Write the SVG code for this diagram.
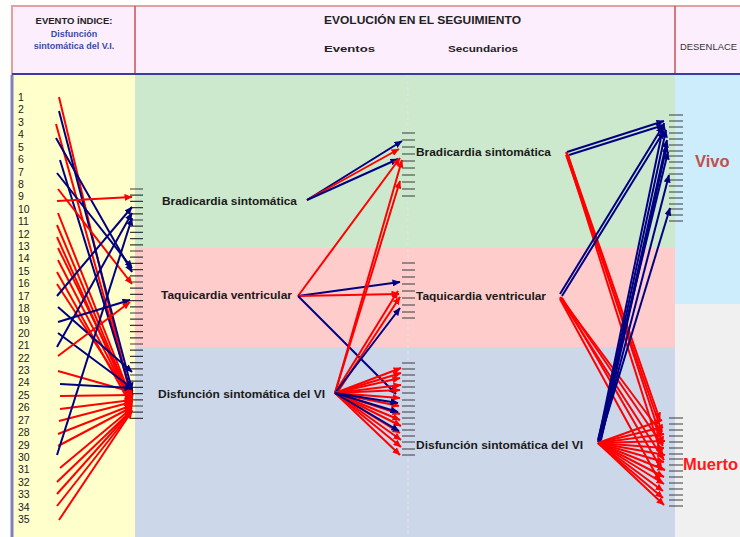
<svg xmlns="http://www.w3.org/2000/svg" width="740" height="537" viewBox="0 0 740 537">
<style>
.lbl{font-family:"Liberation Sans",Arial,sans-serif;font-weight:bold;font-size:11.5px;fill:#1a1a1a}
.num{font-family:"Liberation Sans",Arial,sans-serif;font-size:10.5px;fill:#1a1a1a}
.hd{font-family:"Liberation Sans",Arial,sans-serif;font-weight:bold;fill:#222}
.tk{stroke:#3a3a3a;stroke-width:1.2;fill:none}
.r{stroke:#ff0000;stroke-width:2;fill:none;marker-end:url(#ar)}
.b{stroke:#000080;stroke-width:2;fill:none;marker-end:url(#ab)}
</style>
<defs>
<marker id="ar" viewBox="0 0 8 7" refX="7.5" refY="3.5" markerWidth="8" markerHeight="7" markerUnits="userSpaceOnUse" orient="auto"><path d="M0,0 L8,3.5 L0,7 z" fill="#ff0000"/></marker>
<marker id="ab" viewBox="0 0 8 7" refX="7.5" refY="3.5" markerWidth="8" markerHeight="7" markerUnits="userSpaceOnUse" orient="auto"><path d="M0,0 L8,3.5 L0,7 z" fill="#000080"/></marker>
</defs>
<rect width="740" height="537" fill="#ffffff"/>
<g id="bands">
<rect x="12" y="75" width="123" height="462" fill="#ffffcc"/>
<rect x="135" y="75" width="540" height="173" fill="#cde9cd"/>
<rect x="135" y="248" width="540" height="99" fill="#ffcccc"/>
<rect x="135" y="347" width="540" height="190" fill="#ccd7ea"/>
<rect x="675" y="75" width="65" height="229" fill="#cdedfc"/>
<rect x="675" y="304" width="65" height="233" fill="#f0f0f0"/>
<line x1="408" y1="75" x2="408" y2="537" stroke="#e4e4e4" stroke-width="1" stroke-dasharray="3,3"/>
<line x1="12" y1="75" x2="12" y2="537" stroke="#8080c0" stroke-width="3"/>
</g>
<g id="header">
<rect x="12" y="6" width="740" height="68" fill="#fdeefe" stroke="#e4a0a0" stroke-width="2"/>
<line x1="135" y1="6" x2="135" y2="74" stroke="#c85050" stroke-width="1.5"/>
<line x1="675" y1="6" x2="675" y2="74" stroke="#c85050" stroke-width="1.5"/>
<line x1="12" y1="74" x2="740" y2="74" stroke="#3c3ca0" stroke-width="2"/>
<text class="hd" x="74" y="23.5" font-size="9.5" text-anchor="middle">EVENTO ÍNDICE:</text>
<text class="hd" x="74" y="36.5" font-size="9" text-anchor="middle" style="fill:#3a4aa8">Disfunción</text>
<text class="hd" x="74" y="49" font-size="9" text-anchor="middle" style="fill:#3a4aa8">sintomática del V.I.</text>
<text class="hd" x="324" y="23.5" font-size="10" textLength="197" lengthAdjust="spacingAndGlyphs">EVOLUCIÓN EN EL SEGUIMIENTO</text>
<text class="hd" x="324" y="52" font-size="9.5" textLength="51" lengthAdjust="spacingAndGlyphs">Eventos</text>
<text class="hd" x="448" y="52" font-size="9.5" textLength="70" lengthAdjust="spacingAndGlyphs">Secundarios</text>
<text x="680" y="50" font-family="Liberation Sans, Arial, sans-serif" font-size="9.5" fill="#333" textLength="57" lengthAdjust="spacingAndGlyphs">DESENLACE</text>
</g>
<g id="patients" class="num">
<text x="18" y="101">1</text><text x="18" y="113.4">2</text><text x="18" y="125.8">3</text><text x="18" y="138.2">4</text><text x="18" y="150.6">5</text>
<text x="18" y="163">6</text><text x="18" y="175.5">7</text><text x="18" y="187.9">8</text><text x="18" y="200.3">9</text><text x="18" y="212.7">10</text>
<text x="18" y="225.1">11</text><text x="18" y="237.5">12</text><text x="18" y="249.9">13</text><text x="18" y="262.3">14</text><text x="18" y="274.7">15</text>
<text x="18" y="287.2">16</text><text x="18" y="299.6">17</text><text x="18" y="312">18</text><text x="18" y="324.4">19</text><text x="18" y="336.8">20</text>
<text x="18" y="349.2">21</text><text x="18" y="361.6">22</text><text x="18" y="374">23</text><text x="18" y="386.4">24</text><text x="18" y="398.8">25</text>
<text x="18" y="411.2">26</text><text x="18" y="423.7">27</text><text x="18" y="436.1">28</text><text x="18" y="448.5">29</text><text x="18" y="460.9">30</text>
<text x="18" y="473.3">31</text><text x="18" y="485.7">32</text><text x="18" y="498.1">33</text><text x="18" y="510.5">34</text><text x="18" y="523">35</text>
</g>
<g id="stack-index">
<path class="tk" d="M130,189h13M130,195.2h13M130,201.4h13M130,207.6h13M130,213.8h13M130,220h13M130,226.2h13M130,232.4h13M130,238.6h13M130,244.8h13M130,251h13M130,257.2h13M130,263.4h13M130,269.6h13M130,275.8h13M130,282h13M130,288.2h13M130,294.4h13M130,300.6h13M130,306.8h13M130,313h13M130,319.2h13M130,325.4h13M130,331.6h13M130,337.8h13M130,344h13M130,350.2h13M130,356.4h13M130,362.6h13M130,368.8h13M130,375h13M130,381.2h13M130,387.4h13M130,393.6h13M130,399.8h13M130,406h13M130,412.2h13M130,418.4h13"/>
</g>
<g id="node-brad1"><text class="lbl" x="162" y="205" textLength="135" lengthAdjust="spacingAndGlyphs">Bradicardia sintomática</text></g>
<g id="node-taq1"><text class="lbl" x="161" y="299" textLength="131" lengthAdjust="spacingAndGlyphs">Taquicardia ventricular</text></g>
<g id="node-disf1"><text class="lbl" x="158" y="398" textLength="167" lengthAdjust="spacingAndGlyphs">Disfunción sintomática del VI</text></g>
<g id="node-brad2">
<path class="tk" d="M402,133h13M402,140h13M402,147h13M402,154h13M402,161h13M402,168h13M402,175h13M402,182h13M402,189h13M402,196h13"/>
<text class="lbl" x="416" y="156" textLength="135" lengthAdjust="spacingAndGlyphs">Bradicardia sintomática</text>
</g>
<g id="node-taq2">
<path class="tk" d="M402,263h13M402,270h13M402,277h13M402,284h13M402,291h13M402,298h13M402,305h13M402,312h13M402,318h13"/>
<text class="lbl" x="416" y="300" textLength="130" lengthAdjust="spacingAndGlyphs">Taquicardia ventricular</text>
</g>
<g id="node-disf2">
<path class="tk" d="M402,363h13M402,369h13M402,375h13M402,381h13M402,387h13M402,393h13M402,400h13M402,406h13M402,412h13M402,418h13M402,424h13M402,430h13M402,436h13M402,442h13M402,449h13M402,455h13"/>
<text class="lbl" x="416" y="449" textLength="167" lengthAdjust="spacingAndGlyphs">Disfunción sintomática del VI</text>
</g>
<g id="node-vivo">
<path class="tk" d="M669,115h14M669,121h14M669,127h14M669,133h14M669,139h14M669,145h14M669,151h14M669,156h14M669,162h14M669,168h14M669,174h14M669,180h14M669,186h14M669,192h14M669,198h14M669,204h14M669,209h14M669,215h14M669,221h14"/>
<text x="695" y="167" font-family="Liberation Sans, Arial, sans-serif" font-weight="bold" font-size="16.5" fill="#c0504d">Vivo</text>
</g>
<g id="node-muerto">
<path class="tk" d="M669,418h14M669,424h14M669,430h14M669,436h14M669,442h14M669,448h14M669,454h14M669,459h14M669,465h14M669,471h14M669,477h14M669,483h14M669,489h14M669,495h14M669,500h14M669,506h14"/>
<text x="683" y="470" font-family="Liberation Sans, Arial, sans-serif" font-weight="bold" font-size="16.5" fill="#ff1a1a">Muerto</text>
</g>
<g id="connectors">
<line class="r" x1="59" y1="97" x2="132" y2="402"/>
<line class="b" x1="59" y1="111" x2="132" y2="390"/>
<line class="r" x1="56" y1="124" x2="132" y2="398"/>
<line class="b" x1="56" y1="138" x2="132" y2="272"/>
<line class="b" x1="60" y1="160" x2="132" y2="395"/>
<line class="b" x1="57" y1="173" x2="132" y2="268"/>
<line class="r" x1="58" y1="189" x2="132" y2="284"/>
<line class="r" x1="57" y1="201" x2="132" y2="197"/>
<line class="r" x1="58" y1="213" x2="132" y2="400"/>
<line class="r" x1="57" y1="225" x2="132" y2="403"/>
<line class="r" x1="57" y1="237" x2="132" y2="405"/>
<line class="r" x1="58" y1="248" x2="132" y2="398"/>
<line class="r" x1="58" y1="260" x2="132" y2="404"/>
<line class="r" x1="57" y1="272" x2="132" y2="407"/>
<line class="r" x1="57" y1="284" x2="132" y2="400"/>
<line class="b" x1="57" y1="296" x2="132" y2="207"/>
<line class="b" x1="58" y1="307" x2="132" y2="372"/>
<line class="b" x1="58" y1="322" x2="130" y2="300"/>
<line class="b" x1="58" y1="333" x2="132" y2="388"/>
<line class="b" x1="57" y1="347" x2="132" y2="213"/>
<line class="r" x1="58" y1="356" x2="130" y2="302"/>
<line class="r" x1="58" y1="371" x2="132" y2="392"/>
<line class="b" x1="60" y1="384" x2="132" y2="388"/>
<line class="r" x1="60" y1="396" x2="132" y2="395"/>
<line class="r" x1="60" y1="409" x2="132" y2="400"/>
<line class="r" x1="59" y1="421" x2="132" y2="402"/>
<line class="r" x1="58" y1="434" x2="132" y2="405"/>
<line class="r" x1="58" y1="446" x2="132" y2="407"/>
<line class="b" x1="57" y1="455" x2="132" y2="218"/>
<line class="r" x1="60" y1="468" x2="132" y2="408"/>
<line class="r" x1="57" y1="482" x2="132" y2="410"/>
<line class="r" x1="57" y1="494" x2="132" y2="410"/>
<line class="r" x1="57" y1="506" x2="132" y2="411"/>
<line class="r" x1="59" y1="520" x2="132" y2="411"/>

<line class="b" x1="307" y1="200" x2="402" y2="141"/>
<line class="r" x1="307" y1="200" x2="399" y2="149"/>
<line class="b" x1="307" y1="200" x2="398" y2="159"/>
<line class="r" x1="298" y1="296" x2="400" y2="158"/>
<line class="b" x1="298" y1="296" x2="400" y2="282"/>
<line class="r" x1="298" y1="296" x2="399" y2="294"/>
<line class="b" x1="298" y1="296" x2="396" y2="394"/>
<line class="r" x1="335" y1="393" x2="402" y2="160"/>
<line class="r" x1="335" y1="393" x2="400" y2="181"/>
<line class="r" x1="335" y1="393" x2="398" y2="291"/>
<line class="r" x1="337" y1="393" x2="400" y2="297"/>
<line class="b" x1="335" y1="393" x2="400" y2="308"/>
<line class="r" x1="335" y1="393" x2="401" y2="368"/>
<line class="r" x1="335" y1="393" x2="401" y2="373"/>
<line class="r" x1="335" y1="393" x2="400" y2="378"/>
<line class="r" x1="335" y1="393" x2="401" y2="385"/>
<line class="r" x1="335" y1="393" x2="400" y2="390"/>
<line class="r" x1="335" y1="393" x2="400" y2="398"/>
<line class="r" x1="335" y1="393" x2="399" y2="406"/>
<line class="r" x1="335" y1="393" x2="400" y2="414"/>
<line class="r" x1="335" y1="393" x2="400" y2="420"/>
<line class="r" x1="335" y1="393" x2="401" y2="426"/>
<line class="r" x1="335" y1="393" x2="400" y2="433"/>
<line class="r" x1="335" y1="393" x2="401" y2="440"/>
<line class="r" x1="335" y1="393" x2="401" y2="447"/>
<line class="r" x1="335" y1="393" x2="400" y2="455"/>
<line class="b" x1="335" y1="393" x2="398" y2="403"/>
<line class="b" x1="335" y1="393" x2="398" y2="412"/>
<line class="b" x1="335" y1="393" x2="399" y2="431"/>

<line class="b" x1="567" y1="152" x2="664" y2="121"/>
<line class="b" x1="569" y1="155" x2="664" y2="125"/>
<line class="r" x1="567" y1="153" x2="660" y2="420"/>
<line class="r" x1="566" y1="155" x2="662" y2="432"/>
<line class="r" x1="568" y1="155" x2="663" y2="444"/>
<line class="r" x1="566" y1="152" x2="662" y2="456"/>
<line class="b" x1="560" y1="294" x2="663" y2="126"/>
<line class="b" x1="562" y1="296" x2="664" y2="131"/>
<line class="r" x1="560" y1="297" x2="662" y2="434"/>
<line class="r" x1="561" y1="297" x2="663" y2="446"/>
<line class="r" x1="560" y1="298" x2="664" y2="460"/>
<line class="r" x1="562" y1="298" x2="662" y2="470"/>
<line class="r" x1="560" y1="299" x2="660" y2="482"/>
<line class="b" x1="598" y1="442" x2="664" y2="123"/>
<line class="b" x1="599" y1="441" x2="666" y2="130"/>
<line class="b" x1="600" y1="441" x2="667" y2="140"/>
<line class="b" x1="601" y1="440" x2="667" y2="145"/>
<line class="b" x1="598" y1="440" x2="668" y2="152"/>
<line class="b" x1="600" y1="442" x2="669" y2="175"/>
<line class="b" x1="599" y1="442" x2="670" y2="208"/>
<line class="r" x1="598" y1="443" x2="662" y2="420"/>
<line class="r" x1="598" y1="443" x2="663" y2="427"/>
<line class="r" x1="598" y1="443" x2="664" y2="434"/>
<line class="r" x1="598" y1="443" x2="665" y2="441"/>
<line class="r" x1="598" y1="443" x2="664" y2="448"/>
<line class="r" x1="598" y1="443" x2="665" y2="455"/>
<line class="r" x1="598" y1="443" x2="664" y2="462"/>
<line class="r" x1="598" y1="443" x2="665" y2="470"/>
<line class="r" x1="598" y1="443" x2="664" y2="477"/>
<line class="r" x1="598" y1="443" x2="664" y2="484"/>
<line class="r" x1="598" y1="443" x2="663" y2="491"/>
<line class="r" x1="598" y1="443" x2="663" y2="498"/>
<line class="r" x1="598" y1="443" x2="664" y2="505"/>
</g>
</svg>
